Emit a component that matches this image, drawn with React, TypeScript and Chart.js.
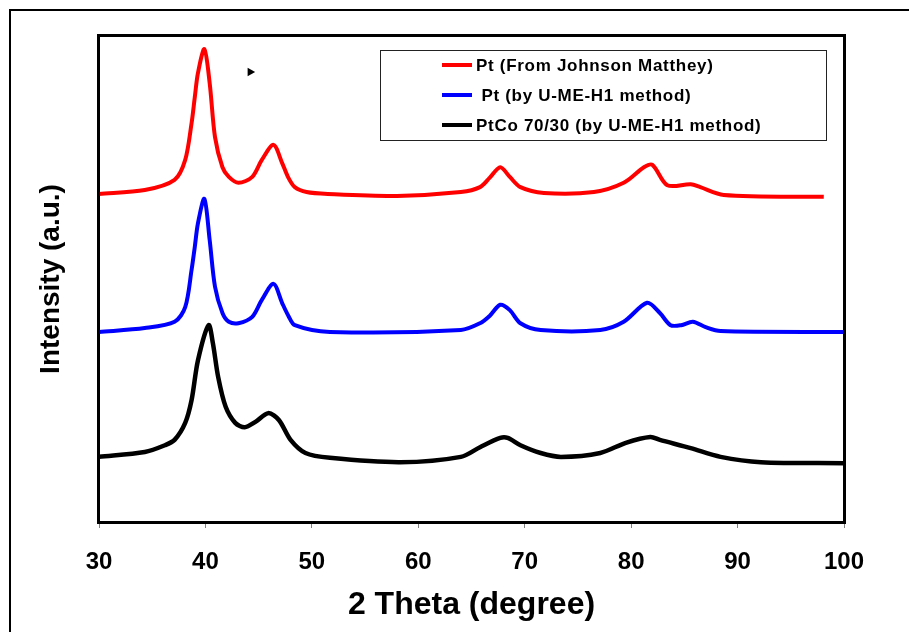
import React, { useEffect, useRef } from 'react';
import { Chart, registerables } from 'chart.js';

Chart.register(...registerables);

// ---- data ----
const seriesLabels = ['Pt (From Johnson Matthey)', ' Pt (by U-ME-H1 method)', 'PtCo 70/30 (by U-ME-H1 method)'];
const seriesColors = ['#ff0000', '#0000ff', '#000000'];
const xTickValues = [30, 40, 50, 60, 70, 80, 90, 100];

const redTheta = [30, 34.3, 37.1, 38.1, 38.7, 39.0, 39.3, 39.9, 40.4, 40.9, 41.6, 42.2, 43.1, 44.4, 45.3, 46.4, 47.2, 47.8, 48.4, 49.5, 51.5, 58, 64.0, 65.8, 66.7, 67.7, 68.6, 69.6, 71.8, 76.5, 79.3, 81.2, 82.0, 83.4, 85.6, 86.5, 88.7, 98.1];
const redIntensity = [67.5, 68.3, 70.4, 74.5, 82.1, 87.4, 92.4, 97.3, 90.3, 79.2, 73.0, 71.0, 69.8, 71.0, 74.5, 77.6, 73.9, 70.8, 68.9, 67.9, 67.5, 67.1, 67.9, 68.9, 70.8, 73.0, 71.0, 68.9, 67.7, 67.9, 69.8, 73.0, 73.5, 69.3, 69.5, 68.9, 67.3, 66.9];

const blueTheta = [30, 34.3, 37.1, 38.1, 38.7, 39.0, 39.3, 39.9, 40.4, 40.9, 41.6, 42.2, 43.1, 44.4, 45.3, 46.4, 47.2, 47.8, 48.4, 51.7, 64, 65.8, 66.7, 67.7, 68.6, 69.6, 71.5, 77.1, 79.3, 81.5, 82.7, 83.7, 84.7, 85.8, 87.0, 88.4, 100];
const blueIntensity = [39.1, 39.9, 41.2, 44.2, 51.9, 56.6, 61.5, 66.5, 58.0, 48.4, 43.0, 41.2, 40.9, 42.2, 45.7, 49.0, 45.1, 42.4, 40.5, 39.1, 39.5, 40.9, 42.4, 44.7, 43.6, 40.9, 39.5, 39.5, 41.2, 45.1, 43.0, 40.5, 40.5, 41.2, 40.1, 39.3, 39.1];

const blackTheta = [30, 34.3, 36.2, 37.1, 38.1, 38.7, 39.3, 40.3, 40.7, 41.2, 41.9, 42.8, 43.7, 44.7, 45.9, 46.9, 48.0, 49.4, 51.7, 58.3, 64.0, 65.8, 67.7, 68.4, 69.6, 71.5, 73.4, 77.1, 79.5, 81.8, 82.7, 85.6, 88.4, 92.2, 100];
const blackIntensity = [13.4, 14.4, 15.8, 16.9, 20.4, 25.1, 33.3, 40.5, 36.8, 29.8, 23.7, 20.4, 19.5, 20.6, 22.4, 21.0, 16.9, 14.2, 13.2, 12.3, 13.4, 15.4, 17.3, 17.3, 15.8, 14.2, 13.4, 14.2, 16.3, 17.5, 16.9, 15.2, 13.4, 12.3, 12.1];

const markerTheta = [44.2];
const markerIntensity = [92.6];

const FONT = "'Liberation Sans', Arial, sans-serif";

const toPoints = (xs: number[], ys: number[]) => xs.map((x, i) => ({ x, y: ys[i] }));

const framePlugin = {
  id: 'frameAndLegend',
  beforeDraw(chart: any) {
    const ctx = chart.ctx;
    ctx.save();
    ctx.fillStyle = '#ffffff';
    ctx.fillRect(0, 0, chart.width, chart.height);
    ctx.fillStyle = '#000000';
    ctx.fillRect(9, 9, 2, chart.height);
    ctx.fillRect(9, 9, chart.width, 2);
    ctx.restore();
  },
  afterDatasetsDraw(chart: any) {
    const ctx = chart.ctx;
    const a = chart.chartArea;
    ctx.save();
    ctx.strokeStyle = '#000000';
    ctx.lineWidth = 3;
    ctx.strokeRect(a.left - 0.5, a.top - 0.5, a.right - a.left + 1, a.bottom - a.top + 1);
    // legend box
    const bx = 380.5, by = 50.5, bw = 446, bh = 90;
    ctx.fillStyle = '#ffffff';
    ctx.fillRect(bx, by, bw, bh);
    ctx.lineWidth = 1;
    ctx.strokeStyle = '#222222';
    ctx.strokeRect(bx, by, bw, bh);
    ctx.font = `bold 17px ${FONT}`;
    (ctx as any).letterSpacing = '0.7px';
    ctx.textBaseline = 'middle';
    ctx.textAlign = 'left';
    seriesLabels.forEach((label, i) => {
      const y = 65 + i * 30;
      ctx.strokeStyle = seriesColors[i];
      ctx.lineWidth = 4;
      ctx.beginPath();
      ctx.moveTo(442, y);
      ctx.lineTo(472, y);
      ctx.stroke();
      ctx.fillStyle = '#000000';
      ctx.fillText(label, 476, y + 1);
    });
    ctx.restore();
  },
};

export default function App() {
  const ref = useRef<HTMLCanvasElement | null>(null);

  useEffect(() => {
    document.body.style.margin = '0';
    if (!ref.current) return;
    const chart = new Chart(ref.current, {
      type: 'line',
      data: {
        datasets: [
          {
            label: seriesLabels[0],
            data: toPoints(redTheta, redIntensity),
            borderColor: seriesColors[0],
            borderWidth: 4,
            pointRadius: 0,
            tension: 0.3,
          },
          {
            label: seriesLabels[1],
            data: toPoints(blueTheta, blueIntensity),
            borderColor: seriesColors[1],
            borderWidth: 4,
            pointRadius: 0,
            tension: 0.3,
          },
          {
            label: seriesLabels[2],
            data: toPoints(blackTheta, blackIntensity),
            borderColor: seriesColors[2],
            borderWidth: 4.5,
            pointRadius: 0,
            tension: 0.3,
          },
          {
            label: 'marker',
            data: toPoints(markerTheta, markerIntensity),
            showLine: false,
            pointStyle: 'triangle',
            rotation: 90,
            pointRadius: 5,
            backgroundColor: '#000000',
            borderColor: '#000000',
            borderWidth: 0,
          } as any,
        ],
      },
      options: {
        animation: false,
        responsive: false,
        layout: { padding: { left: 0, top: 36, right: 65, bottom: 0 } },
        plugins: { legend: { display: false }, tooltip: { enabled: false } },
        scales: {
          x: {
            type: 'linear',
            min: 30,
            max: 100,
            afterFit: (s: any) => { s.height = 110; },
            ticks: {
              stepSize: 10,
              color: '#000000',
              padding: 20,
              font: { family: FONT, size: 24, weight: 'bold' },
              callback: (v: any) => (xTickValues.includes(Number(v)) ? String(v) : ''),
            },
            grid: { display: true, drawOnChartArea: false, drawTicks: true, tickLength: 6, color: '#808080', lineWidth: 1 },
            border: { display: false },
            title: {
              display: true,
              text: '2 Theta (degree)',
              color: '#000000',
              font: { family: FONT, size: 32, weight: 'bold' },
              padding: { top: 0, bottom: 8 },
            },
          },
          y: {
            type: 'linear',
            min: 0,
            max: 100,
            afterFit: (s: any) => { s.width = 99; },
            ticks: { display: false },
            grid: { display: false },
            border: { display: false },
            title: {
              display: true,
              text: 'Intensity (a.u.)',
              color: '#000000',
              font: { family: FONT, size: 28, weight: 'bold' },
              padding: { top: 34, bottom: 0 },
            },
          },
        },
      },
      plugins: [framePlugin],
    } as any);
    return () => chart.destroy();
  }, []);

  return <canvas ref={ref} width={909} height={632} style={{ display: 'block', width: 909, height: 632 }} />;
}
